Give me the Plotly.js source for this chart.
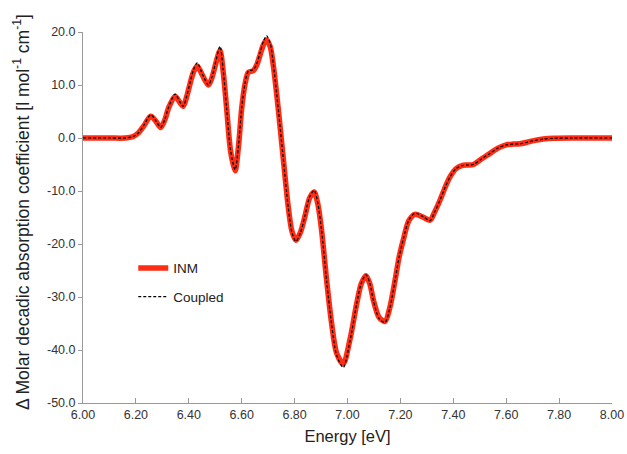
<!DOCTYPE html>
<html>
<head>
<meta charset="utf-8">
<script src="https://cdn.plot.ly/plotly-3.0.1.min.js"></script>
<style>html,body{margin:0;padding:0;background:#fff;}#chart{width:627px;height:454px;}</style>
</head>
<body>
<div id="chart"></div>
<script>
const energy = [6.00, 6.10, 6.16, 6.19, 6.21, 6.23, 6.256, 6.275, 6.294, 6.31, 6.323, 6.348, 6.365, 6.379, 6.392, 6.405, 6.418, 6.432, 6.452, 6.474, 6.487, 6.499, 6.518, 6.530, 6.543, 6.558, 6.575, 6.588, 6.600, 6.612, 6.625, 6.644, 6.657, 6.669, 6.682, 6.694, 6.708, 6.720, 6.738, 6.757, 6.776, 6.790, 6.805, 6.822, 6.839, 6.857, 6.874, 6.888, 6.902, 6.921, 6.940, 6.959, 6.984, 7.009, 7.035, 7.052, 7.070, 7.085, 7.098, 7.120, 7.142, 7.160, 7.180, 7.195, 7.211, 7.232, 7.255, 7.285, 7.312, 7.330, 7.350, 7.370, 7.388, 7.410, 7.432, 7.455, 7.476, 7.505, 7.539, 7.569, 7.600, 7.625, 7.652, 7.680, 7.700, 7.740, 7.780, 7.850, 8.00];
const inm = [0, 0, 0, 0.3, 1.0, 2.3, 4.1, 3.2, 2.0, 3.5, 5.6, 7.9, 6.8, 6.0, 7.8, 10.3, 12.5, 13.6, 11.8, 10.0, 11.3, 13.5, 16.5, 12.5, 5.6, -2.5, -6.2, -1.5, 5.6, 10.0, 12.4, 12.7, 13.8, 15.6, 17.6, 18.5, 17.2, 13.5, 5.6, -3.8, -13.0, -17.6, -19.3, -17.8, -14.8, -11.3, -10.2, -12.5, -17.4, -26.8, -35.0, -40.6, -42.6, -38.1, -31.2, -27.5, -26.0, -27.6, -30.6, -33.9, -34.6, -32.0, -26.8, -22.5, -19.2, -15.6, -14.4, -14.9, -15.5, -13.9, -11.7, -9.2, -7.3, -5.8, -5.2, -5.1, -5.0, -4.0, -2.9, -1.9, -1.3, -1.15, -1.1, -0.8, -0.55, -0.2, -0.05, 0, 0];
const coupled = [0, 0, 0, 0.3, 1.0, 2.4, 4.4, 3.3, 2.0, 3.6, 5.7, 8.3, 6.9, 6.0, 7.9, 10.5, 12.9, 14.2, 12.0, 10.0, 11.4, 13.8, 17.3, 12.8, 5.6, -2.4, -6.0, -1.4, 5.7, 10.2, 12.6, 12.9, 14.0, 16.0, 18.2, 19.3, 17.8, 13.8, 5.6, -3.8, -13.1, -17.8, -19.5, -17.9, -14.7, -11.1, -9.9, -12.4, -17.4, -26.9, -35.2, -41.0, -43.3, -38.4, -31.2, -27.4, -25.8, -27.5, -30.7, -34.1, -34.8, -32.1, -26.8, -22.5, -19.1, -15.5, -14.2, -14.8, -15.6, -13.9, -11.7, -9.2, -7.3, -5.8, -5.2, -5.1, -5.0, -4.0, -2.9, -1.9, -1.3, -1.15, -1.1, -0.8, -0.55, -0.2, -0.05, 0, 0];
const xTicks = [6.0, 6.2, 6.4, 6.6, 6.8, 7.0, 7.2, 7.4, 7.6, 7.8, 8.0];
const yTicks = [20, 10, 0, -10, -20, -30, -40, -50];

const traces = [
  {x: energy, y: inm, name: 'INM', type: 'scatter', mode: 'lines', legendgroup: 'a',
   line: {color: 'rgb(255,45,20)', width: 5.5, shape: 'spline', smoothing: 0.8}},
  {x: energy, y: coupled, name: 'Coupled', type: 'scatter', mode: 'lines', legendgroup: 'b',
   line: {color: '#000', width: 1.2, dash: '3px,2px', shape: 'spline', smoothing: 0.8}}
];
const axisFont = {family: 'Liberation Sans, Arial, sans-serif', size: 12.5, color: '#333'};
const layout = {
  width: 627, height: 454,
  margin: {l: 83, r: 15, t: 32, b: 51},
  paper_bgcolor: '#fff', plot_bgcolor: '#fff',
  font: {family: 'Liberation Sans, Arial, sans-serif', color: '#222'},
  showlegend: true,
  legend: {x: 0.095, y: 0.405, xanchor: 'left', yanchor: 'top', bgcolor: 'rgba(0,0,0,0)',
           font: {size: 13.5, color: '#222'}, tracegroupgap: 8, itemwidth: 30},
  xaxis: {range: [6, 8], tickvals: xTicks, ticktext: xTicks.map(v => v.toFixed(2)),
          showgrid: false, zeroline: false, showline: true, linecolor: '#999', linewidth: 1,
          ticks: 'inside', ticklen: 5, tickcolor: '#999', tickfont: axisFont,
          title: {text: 'Energy [eV]', font: {size: 16.5, color: '#222'}, standoff: 9}},
  yaxis: {range: [-50, 20], tickvals: yTicks, ticktext: yTicks.map(v => v.toFixed(1)),
          showgrid: false, zeroline: false, showline: true, linecolor: '#999', linewidth: 1,
          ticks: 'outside', ticklen: 4, tickcolor: '#999', tickfont: axisFont},
  annotations: [{
    text: 'Δ Molar decadic absorption coefficient [l mol<sup>-1</sup> cm<sup>-1</sup>]',
    xref: 'paper', yref: 'paper', x: -0.117, y: 0.515, xanchor: 'center', yanchor: 'middle',
    textangle: -90, showarrow: false, font: {size: 17.5, color: '#222'}
  }]
};
Plotly.newPlot('chart', traces, layout, {displayModeBar: false, staticPlot: true});
</script>
</body>
</html>
